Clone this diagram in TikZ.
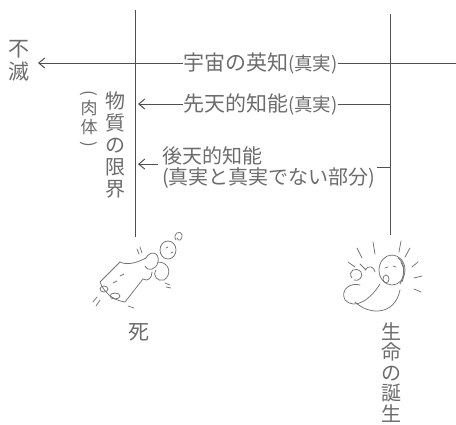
\documentclass[tikz,border=0pt]{standalone}
\usepackage{fontspec}
\setmainfont{Noto Sans CJK JP}
\usetikzlibrary{arrows.meta}
\definecolor{ink}{RGB}{80,80,80}
\definecolor{txt}{RGB}{108,108,108}
\definecolor{pen}{RGB}{115,115,115}
\begin{document}
\begin{tikzpicture}[x=1pt,y=-1pt,
  rule/.style={draw=ink,line width=1pt},
  arr/.style={rule,-{Straight Barb[length=6pt,width=10pt]}},
  lbl/.style={text=txt,inner sep=0pt,font=\fontsize{21}{21}\selectfont},
  vlbl/.style={lbl,align=center},
  sketch/.style={draw=pen,line width=0.75pt,line cap=round,line join=round}]
\useasboundingbox (0,0) rectangle (456,424);

% the two life lines
\coordinate (ltop) at (135,10);
\coordinate (lbot) at (135,237);
\coordinate (rtop) at (390,14);
\coordinate (rbot) at (390,235);
\draw[rule] (ltop) -- (lbot);
\draw[rule] (rtop) -- (rbot);

% labels
\newcommand\paren[1]{{\fontsize{18.5}{18.5}\selectfont #1}}
\newcommand\vparen[1]{\rotatebox[origin=c]{-90}{#1}}
\node[vlbl] (immortal) at (19,61) {不\\[2pt]滅};
\node[lbl,anchor=west] (wisdom) at (183,63) {宇宙の英知\paren{(真実)}};
\node[lbl,anchor=west] (innate) at (183,104) {先天的知能\paren{(真実)}};
\node[lbl,anchor=north west,align=left,font=\fontsize{20}{21}\selectfont] (acquired) at (162,146)
  {後天的知能\\(真実と真実でない部分)};
\node[vlbl,font=\fontsize{20}{22}\selectfont] (matter) at (115,145) {物\\質\\の\\限\\界};
\node[vlbl,font=\fontsize{17}{19}\selectfont] (body) at (89,120) {\vparen{(}\\[-3pt]肉\\体\\[-3pt]\vparen{)}};
\node[lbl] (death) at (139,332) {死};
\node[vlbl,anchor=north,font=\fontsize{20}{20.5}\selectfont] (birth) at (391,322) {生\\命\\の\\誕\\生};

% connectors
\coordinate (redge) at (456,63);
\coordinate (tipA) at (38,63);
\draw[rule] (redge) -- (wisdom.east);
\draw[arr] (wisdom.west) -- (tipA);
\draw[rule] (innate.east) -- (innate.east -| rtop);
\draw[arr] (innate.west) -- ([xshift=3pt]innate.west -| ltop);
\draw[rule] ([xshift=1pt]acquired.east) -- (acquired.east -| rtop);
\draw[arr] ([xshift=-4pt,yshift=3pt]acquired.west) -- ([xshift=3pt,yshift=3pt]acquired.west -| ltop);

% departing figure
\begin{scope}[sketch]
  \draw (120,262) -- (100,282) .. controls (104,292) and (112,300) .. (125,302) -- (143,279);
  \draw (120,262) .. controls (128,266) and (138,262) .. (146,258);
  \draw (104,289) ellipse (4 and 3);
  \draw (115,296) ellipse (5 and 3);
  \draw (120,276) -- (124,274);
  \draw (113,283) -- (117,281);
  \draw (146,258) .. controls (150,250) and (160,252) .. (158,262) .. controls (156,270) and (148,272) .. (145,266);
  \draw (158,262) .. controls (170,262) and (172,275) .. (164,280) .. controls (158,282) and (152,276) .. (156,270);
  \draw (143,279) .. controls (148,282) and (152,278) .. (152,272);
  \draw (168,250) ellipse (8 and 9);
  \draw (166,248) -- (168,247);
  \draw (171,253) -- (173,252);
  \draw (176,240) .. controls (172,234) and (180,229) .. (182,235) .. controls (183,240) and (178,242) .. (177,238);
  \draw (93,302) -- (97,297);
  \draw (96,306) -- (100,300);
  \draw (128,306) -- (134,308);
  \draw (165,283) -- (170,285);
  \draw (166,287) -- (171,288);
  \draw (140,247) -- (142,253);
  \draw (137,249) -- (139,254);
\end{scope}

% newborn figure
\begin{scope}[sketch]
  \draw (392,270) ellipse (13 and 15);
  \draw (398,258) .. controls (404,262) and (406,272) .. (402,282);
  \draw (401,262) .. controls (405,268) and (404,276) .. (400,284);
  \draw (386,279) ellipse (3 and 4);
  \draw (385,268) -- (388,267);
  \draw (393,266) -- (396,267);
  \draw (380,284) .. controls (370,300) and (355,310) .. (345,300) .. controls (340,290) and (350,282) .. (360,285);
  \draw (355,302) .. controls (370,316) and (395,315) .. (400,290);
  \draw (352,278) .. controls (347,271) and (356,266) .. (361,272) .. controls (364,277) and (358,282) .. (354,280);
  \draw (365,270) .. controls (368,265) and (374,266) .. (375,272);
  \draw (373,242) -- (375,254);
  \draw (401,241) -- (399,252);
  \draw (357,248) -- (362,258);
  \draw (410,248) -- (405,257);
  \draw (348,262) -- (355,267);
  \draw (418,262) -- (412,267);
  \draw (422,276) -- (414,278);
  \draw (421,292) -- (414,289);
  \draw (360,264) -- (366,270);
\end{scope}
\end{tikzpicture}
\end{document}
